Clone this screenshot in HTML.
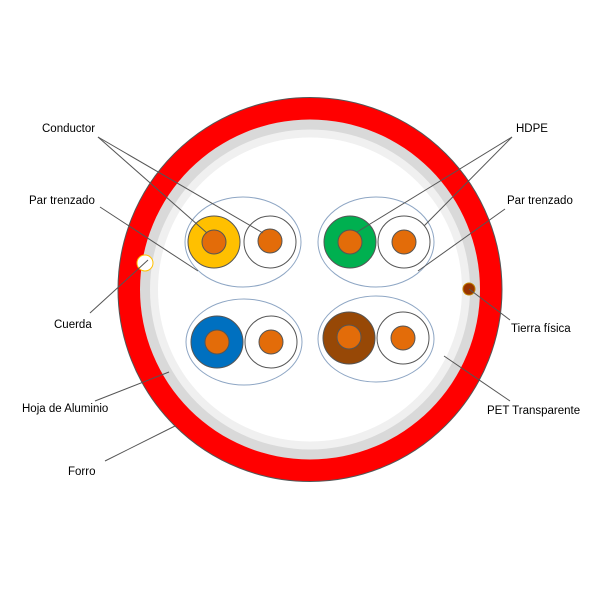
<!DOCTYPE html>
<html><head><style>body{margin:0;background:#fff}svg{display:block}</style></head><body>
<svg width="600" height="600" viewBox="0 0 600 600" xmlns="http://www.w3.org/2000/svg" font-family="Liberation Sans, sans-serif" font-size="11.5" fill="#000">
<circle cx="310" cy="289.5" r="192" fill="#ff0000" stroke="#555" stroke-width="1"/>
<circle cx="310" cy="289.5" r="170" fill="#d9d9d9"/>
<circle cx="310" cy="289.5" r="160" fill="#f0f0f0"/>
<circle cx="310" cy="289.5" r="152" fill="#fff"/>
<g fill="none" stroke="#8ea6c4" stroke-width="1">
<ellipse cx="243" cy="242" rx="58" ry="45"/>
<ellipse cx="376" cy="242" rx="58" ry="45"/>
<ellipse cx="244" cy="342" rx="58" ry="43"/>
<ellipse cx="376" cy="339" rx="58" ry="43"/>
</g>
<g stroke="#555" stroke-width="1">
<circle cx="214" cy="242" r="26" fill="#ffc000"/>
<circle cx="270" cy="242" r="26" fill="#fff"/>
<circle cx="350" cy="242" r="26" fill="#00b050"/>
<circle cx="404" cy="242" r="26" fill="#fff"/>
<circle cx="217" cy="342" r="26" fill="#0070c0"/>
<circle cx="271" cy="342" r="26" fill="#fff"/>
<circle cx="349" cy="338" r="26" fill="#974806"/>
<circle cx="403" cy="338" r="26" fill="#fff"/>
<g fill="#e36c09">
<circle cx="214" cy="242" r="12"/><circle cx="270" cy="241" r="12"/>
<circle cx="350" cy="242" r="12"/><circle cx="404" cy="242" r="12"/>
<circle cx="217" cy="342" r="12"/><circle cx="271" cy="342" r="12"/>
<circle cx="349" cy="337" r="12"/><circle cx="403" cy="338" r="12"/>
</g>
</g>
<circle cx="145" cy="263" r="8" fill="#fff" stroke="#ffc000" stroke-width="1"/>
<circle cx="469" cy="289" r="6" fill="#993300" stroke="#c08000" stroke-width="1"/>
<g stroke="#555" stroke-width="1">
<line x1="98" y1="137" x2="207" y2="233"/>
<line x1="98" y1="137" x2="263" y2="233"/>
<line x1="512" y1="137" x2="357" y2="232"/>
<line x1="512" y1="137" x2="424" y2="226"/>
<line x1="100" y1="207" x2="198" y2="271"/>
<line x1="505" y1="209" x2="418" y2="271"/>
<line x1="90" y1="313" x2="148" y2="260"/>
<line x1="510" y1="320" x2="469" y2="289"/>
<line x1="95" y1="401" x2="169" y2="372"/>
<line x1="105" y1="461" x2="175" y2="426"/>
<line x1="510" y1="401" x2="444" y2="356"/>
</g>
<text x="42" y="132">Conductor</text>
<text x="516" y="132">HDPE</text>
<text x="29" y="204">Par trenzado</text>
<text x="507" y="204">Par trenzado</text>
<text x="54" y="328">Cuerda</text>
<text x="511" y="332">Tierra física</text>
<text x="22" y="412">Hoja de Aluminio</text>
<text x="487" y="414">PET Transparente</text>
<text x="68" y="475">Forro</text>
</svg>
</body></html>
